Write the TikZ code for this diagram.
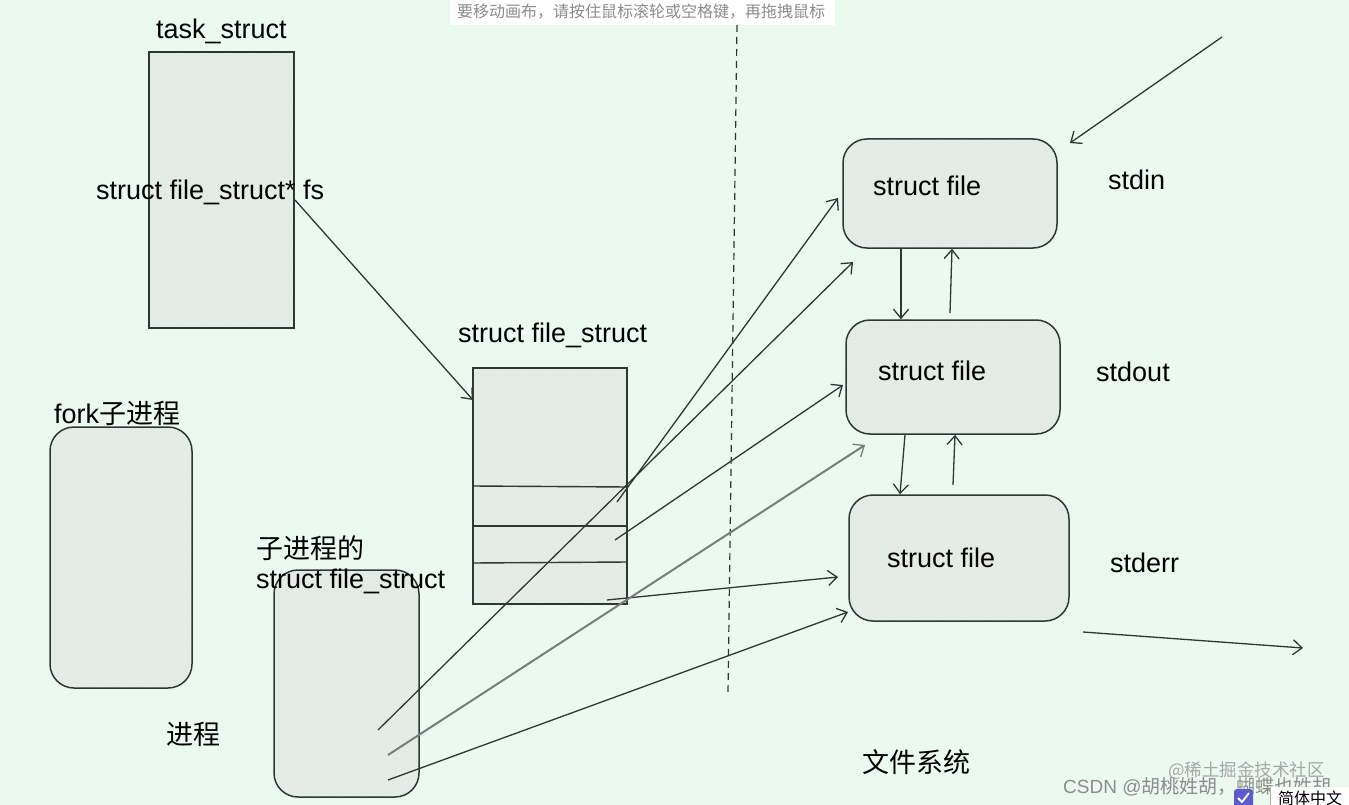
\documentclass[tikz,border=0pt]{standalone}
\usepackage{fontspec}
\setmainfont{Liberation Sans}
\newfontfamily\cjk{Noto Sans CJK SC}
\usetikzlibrary{patterns,arrows.meta}
\definecolor{bg}{HTML}{EBFAEF}
\definecolor{boxfill}{HTML}{E5F1E8}
\definecolor{ink}{HTML}{2E3832}
\definecolor{chk}{HTML}{5A5AD2}
\begin{document}
\begin{tikzpicture}[x=1pt,y=-1pt,
  box/.style={draw=ink, line width=1.5pt, preaction={fill=boxfill}, pattern=north east lines, pattern color=gray!22},
  rbox/.style={box, rounded corners=24pt},
  lbl/.style={font=\fontsize{27}{32}\selectfont, text=black, inner sep=0pt, anchor=west},
  cjklbl/.style={lbl, font=\cjk\fontsize{27}{32}\selectfont},
  conn/.style={draw=ink, line width=1.3pt, -{Straight Barb[length=9pt,width=15pt,line width=1.3pt]}},
  wm/.style={font=\fontsize{17}{20}\selectfont, text=gray!85, inner sep=0pt, anchor=west}]
\useasboundingbox (0,0) rectangle (1349,805);
\fill[bg] (0,0) rectangle (1349,805);

% banner
\fill[white!96!bg] (450,0) rectangle (835,25);
\node[wm, text=gray!90, font=\cjk\fontsize{16}{18}\selectfont] (banner) at (457,12) {要移动画布，请按住鼠标滚轮或空格键，再拖拽鼠标};

% dashed divider
\coordinate (dtop) at (737,25);
\coordinate (dbot) at (728,693);
\draw[ink, line width=1.2pt, dash pattern=on 7pt off 5pt] (dtop) -- (dbot);

% boxes
\node[box, minimum width=145pt, minimum height=276pt, inner sep=0pt] (task) at (221.5,190) {};
\node[box, minimum width=154pt, minimum height=236pt, inner sep=0pt] (fstr) at (550,486) {};
\draw[ink, line width=1.4pt] (fstr.west |- 0,486) -- (fstr.east |- 0,487);
\draw[ink, line width=1.4pt] (fstr.west |- 0,526) -- (fstr.east |- 0,526);
\draw[ink, line width=1.4pt] (fstr.west |- 0,563) -- (fstr.east |- 0,562);
\node[rbox, minimum width=142pt, minimum height=261pt, inner sep=0pt] (fork) at (121,557.5) {};
\node[rbox, minimum width=145pt, minimum height=227pt, inner sep=0pt] (child) at (346.5,683.5) {};
\node[rbox, minimum width=214pt, minimum height=109pt, inner sep=0pt] (f1) at (950,193.5) {};
\node[rbox, minimum width=214pt, minimum height=114pt, inner sep=0pt] (f2) at (953,377) {};
\node[rbox, minimum width=220pt, minimum height=126pt, inner sep=0pt] (f3) at (959,558) {};

% labels
\node[lbl] (tasklbl) at (156,31) {task\_struct};
\node[lbl] (fsptr) at (96,192) {struct file\_struct* fs};
\node[lbl] (fstrlbl) at (458,335) {struct file\_struct};
\node[lbl] (forklbl) at (54,413) {fork{\cjk 子进程}};
\node[cjklbl] (childlbl1) at (256,548) {子进程的};
\node[lbl] (childlbl2) at (256,581) {struct file\_struct};
\node[cjklbl] (proclbl) at (166,734) {进程};
\node[lbl] (t1) at (873,186) {struct file};
\node[lbl] (t2) at (878,371) {struct file};
\node[lbl] (t3) at (887,558) {struct file};
\node[lbl] (stdin) at (1108,180) {stdin};
\node[lbl] (stdout) at (1096,372) {stdout};
\node[lbl] (stderr) at (1110,563) {stderr};
\node[cjklbl] (fslbl) at (862,762) {文件系统};

% connector end points
\coordinate (p0) at (295,200);
\coordinate (q0) at (473,400);
\coordinate (p1) at (617,502);
\coordinate (q1) at (838,198);
\coordinate (p2) at (615,540);
\coordinate (q2) at (843,385);
\coordinate (p3) at (607,600);
\coordinate (q3) at (838,577);
\coordinate (c1) at (378,730);
\coordinate (r1) at (853,262);
\coordinate (c2) at (388,755);
\coordinate (r2) at (865,445);
\coordinate (c3) at (388,780);
\coordinate (r3) at (848,612);
\coordinate (tr) at (1222,37);
\coordinate (trend) at (1070,143);
\coordinate (br) at (1083,632);
\coordinate (brend) at (1303,648);

\draw[conn] (p0) -- (q0);
\draw[conn] (p1) -- (q1);
\draw[conn] (p2) -- (q2);
\draw[conn] (p3) -- (q3);
\draw[conn] (c1) -- (r1);
\draw[conn, draw=ink!65, line width=2pt] (c2) -- (r2);
\draw[conn] (c3) -- (r3);
\draw[conn] (tr) -- (trend);
\draw[conn] (br) -- (brend);

% vertical arrows between struct file boxes
\draw[conn] (f1.south -| 901,0) -- (f2.north -| 901,0);
\draw[conn] (950,313) -- (f1.south -| 952,0);
\draw[conn] (f2.south -| 905,0) -- (f3.north -| 900,0);
\draw[conn] (953,485) -- (f2.south -| 955,0);

% watermarks
\node[wm, font=\cjk\fontsize{17.5}{20}\selectfont, text=gray!70] (wm1) at (1168,771) {@稀土掘金技术社区};
\node[wm, font=\fontsize{19}{22}\selectfont, text=gray!90] (wm2) at (1063,787) {CSDN @{\cjk 胡桃姓胡，蝴蝶也姓胡}};
\fill[chk, rounded corners=3pt] (1234,789) rectangle (1253,808);
\draw[white, line width=1.8pt] (1238,798) -- (1242,802) -- (1249,793);
\fill[white] (1270,787) rectangle (1349,805);
\draw[gray!60] (1270,787) -- (1270,805);
\node[wm, font=\cjk\fontsize{16}{18}\selectfont, text=black] (lang) at (1278,798) {简体中文};
\end{tikzpicture}
\end{document}
